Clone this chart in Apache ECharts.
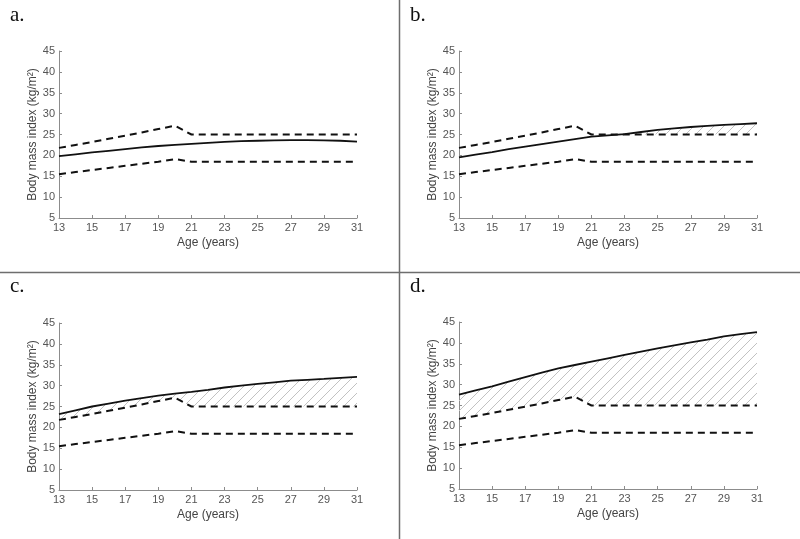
<!DOCTYPE html>
<html>
<head>
<meta charset="utf-8">
<script src="https://cdn.jsdelivr.net/npm/echarts@6/dist/echarts.min.js"></script>
<style>
html,body{margin:0;padding:0;background:#fff;}
#chart{width:800px;height:539px;}
</style>
</head>
<body>
<div id="chart"></div>
<script>
// ---- data ----
var ages = [13,14,15,16,17,18,19,20,21,22,23,24,25,26,27,28,29,30,31];
var xTicks = [13,15,17,19,21,23,25,27,29,31];
var yTicks = [5,10,15,20,25,30,35,40,45];
var upperCut = [21.8,22.5,23.2,24.0,24.7,25.5,26.3,27.1,25,25,25,25,25,25,25,25,25,25,25];
var lowerCut = [15.5,16.0,16.5,17.0,17.5,18.0,18.5,19.1,18.5,18.5,18.5,18.5,18.5,18.5,18.5,18.5,18.5,18.5,18.5];
var bmiA = [19.8,20.25,20.7,21.1,21.5,21.9,22.25,22.5,22.75,23.0,23.25,23.4,23.5,23.6,23.65,23.65,23.6,23.5,23.3];
var bmiB = [19.5,20.2,20.8,21.5,22.1,22.7,23.3,23.9,24.5,24.8,25.1,25.6,26.1,26.45,26.8,27.05,27.3,27.5,27.7];
var bmiC = [23.2,24.1,25.0,25.7,26.4,27.0,27.6,28.1,28.5,29.0,29.55,30.0,30.4,30.8,31.2,31.4,31.6,31.85,32.1];
var bmiD = [27.6,28.6,29.6,30.7,31.8,32.9,33.9,34.7,35.5,36.3,37.1,37.9,38.7,39.4,40.1,40.8,41.55,42.1,42.6];
var panelLabels = ['a.','b.','c.','d.'];
var xName = 'Age (years)';
var yName = 'Body mass index (kg/m\u00B2)';

// ---- hatch pattern ----
function makeHatch(){
  var s = 10;
  var c = document.createElement('canvas');
  c.width = s; c.height = s;
  var g = c.getContext('2d');
  g.strokeStyle = '#c2c2c2';
  g.lineWidth = 1;
  g.beginPath();
  g.moveTo(-1, s+1); g.lineTo(s+1, -1);
  g.moveTo(-1, 1); g.lineTo(1, -1);
  g.moveTo(s-1, s+1); g.lineTo(s+1, s-1);
  g.stroke();
  return c;
}
var hatch = makeHatch();

var grids = [
  {left:59, top:51, width:298, height:167},
  {left:459, top:51, width:298, height:167},
  {left:59, top:323, width:298, height:167},
  {left:459, top:322, width:298, height:167}
];
var bmis = [bmiA,bmiB,bmiC,bmiD];

function pairs(arr){ return ages.map(function(a,i){ return [a, arr[i]]; }); }

var xAxes = [], yAxes = [], series = [], graphics = [];
var labelPos = [[10,5],[410,5],[10,276],[410,276]];
grids.forEach(function(g, k){
  xAxes.push({
    gridIndex:k, type:'value', min:13, max:31, interval:2,
    name:xName, nameLocation:'middle', nameGap:19,
    nameTextStyle:{fontFamily:'Liberation Sans, Arial', fontSize:12, color:'#444'},
    axisLine:{lineStyle:{color:'#8c8c8c', width:1}},
    axisTick:{inside:true, length:3, customValues:xTicks, lineStyle:{color:'#8c8c8c'}},
    axisLabel:{customValues:xTicks, margin:4, fontFamily:'Liberation Sans, Arial', fontSize:11, color:'#555'},
    splitLine:{show:false}
  });
  yAxes.push({
    gridIndex:k, type:'value', min:5, max:45, interval:5,
    name:yName, nameLocation:'middle', nameGap:17, nameRotate:90,
    nameTextStyle:{fontFamily:'Liberation Sans, Arial', fontSize:12, color:'#444'},
    axisLine:{show:true, lineStyle:{color:'#8c8c8c', width:1}},
    axisTick:{show:true, inside:true, length:3, lineStyle:{color:'#8c8c8c'}},
    axisLabel:{margin:4, fontFamily:'Liberation Sans, Arial', fontSize:11, color:'#555'},
    splitLine:{show:false}
  });
  var bmi = bmis[k];
  var rows = ages.map(function(a,i){ return [a, upperCut[i], Math.max(bmi[i], upperCut[i])]; });
  series.push({
    type:'custom', xAxisIndex:k, yAxisIndex:k, silent:true, z:1,
    data:[0],
    renderItem:function(params, api){
      var top = [], bot = [];
      rows.forEach(function(r){
        top.push(api.coord([r[0], r[2]]));
        bot.unshift(api.coord([r[0], r[1]]));
      });
      return {
        type:'polygon',
        shape:{points: top.concat(bot)},
        style:{fill:{image:hatch, repeat:'repeat'}, stroke:null}
      };
    }
  });
  series.push({
    type:'line', xAxisIndex:k, yAxisIndex:k, data:pairs(upperCut),
    symbol:'none', lineStyle:{color:'#111', width:2, type:[7,5]}, z:3
  });
  series.push({
    type:'line', xAxisIndex:k, yAxisIndex:k, data:pairs(lowerCut),
    symbol:'none', lineStyle:{color:'#111', width:2, type:[7,5]}, z:3
  });
  series.push({
    type:'line', xAxisIndex:k, yAxisIndex:k, data:pairs(bmi),
    symbol:'none', lineStyle:{color:'#111', width:1.8}, z:4
  });
  graphics.push({
    type:'text', left:labelPos[k][0], top:labelPos[k][1],
    style:{text:panelLabels[k], font:'21px "Liberation Serif", "Times New Roman", serif', fill:'#111'}
  });
});

graphics.push({type:'line', shape:{x1:399.5, y1:0, x2:399.5, y2:539}, style:{stroke:'#6e6e6e', lineWidth:1.5}});
graphics.push({type:'line', shape:{x1:0, y1:272.5, x2:800, y2:272.5}, style:{stroke:'#6e6e6e', lineWidth:1.5}});

var chart = echarts.init(document.getElementById('chart'), null, {renderer:'canvas'});
chart.setOption({
  animation:false,
  backgroundColor:'#fff',
  grid:grids,
  xAxis:xAxes,
  yAxis:yAxes,
  series:series,
  graphic:graphics
});
</script>
</body>
</html>
